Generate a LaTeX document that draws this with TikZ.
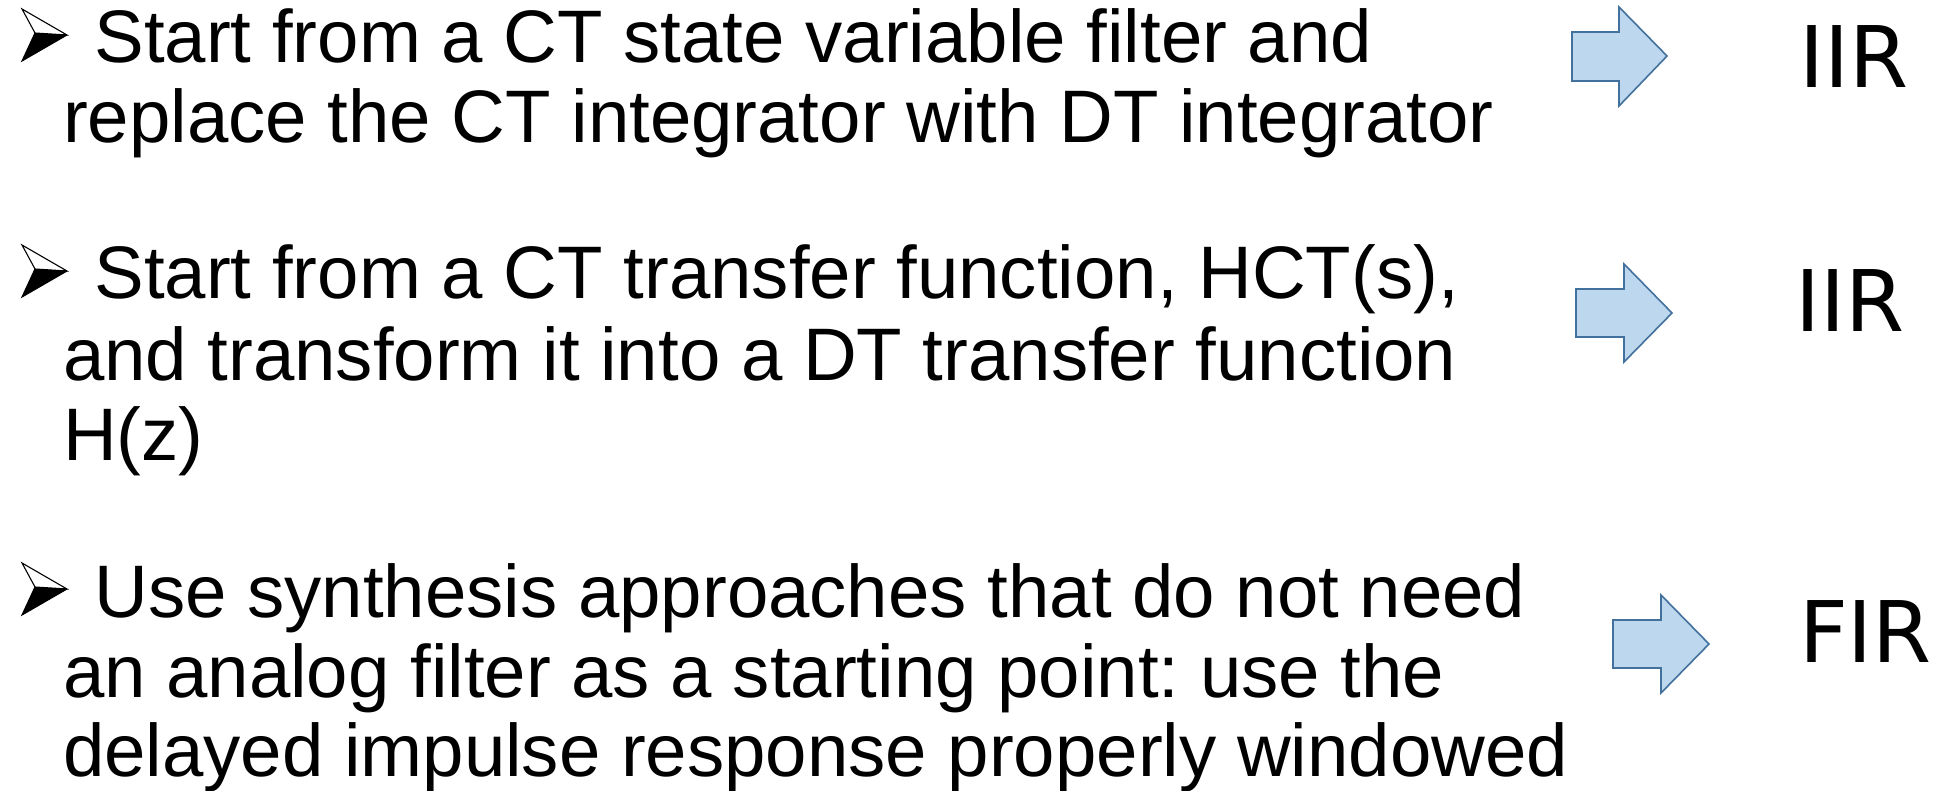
\documentclass[tikz,border=0pt]{standalone}
\usepackage{fontspec}
\setmainfont{Liberation Sans}
\newfontfamily\labfont{DejaVu Sans}
\definecolor{arrfill}{HTML}{BDD7EE}
\definecolor{arrdraw}{HTML}{41719C}
\frenchspacing
\begin{document}
\begin{tikzpicture}[x=1pt,y=-1pt,
  txt/.style={anchor=base west,inner sep=0pt,outer sep=0pt,font=\fontsize{74.4pt}{80pt}\selectfont},
  lab/.style={anchor=base west,inner sep=0pt,outer sep=0pt,font=\labfont\fontsize{85pt}{90pt}\selectfont},
  bigarrow/.style={fill=arrfill,draw=arrdraw,line width=1.6pt,line join=miter},
  bulletpic/.pic={
    \draw[line width=1.1pt,line join=miter,fill=white] (22,-54) -- (67,-28) -- (35,-30) -- cycle;
    \fill[line join=miter] (35,-30) -- (67,-28) -- (22,-2) -- cycle;
    \draw[line width=1.1pt,line join=miter] (35,-30) -- (22,-2) -- (67,-28);
  }]
\useasboundingbox (0,0) rectangle (1942,791);
% bullets
\pic at (0,63) {bulletpic};
\pic at (0,299) {bulletpic};
\pic at (0,617) {bulletpic};
% text block 1
\node[txt] (a1) at (94.5,63) {Start from a CT state variable filter and};
\node[txt] (a2) at (63,143) {replace the CT integrator with DT integrator};
% text block 2
\node[txt] (b1) at (94.5,299) {Start from a CT transfer function, HCT(s),};
\node[txt] (b2) at (63,380) {and transform it into a DT transfer function};
\node[txt] (b3) at (63,460) {H(z)};
% text block 3
\node[txt] (c1) at (94.5,617) {Use synthesis approaches that do not need};
\node[txt] (c2) at (63,697) {an analog filter as a starting point: use the};
\node[txt] (c3) at (63,776) {delayed impulse response properly windowed};
% arrows
\draw[bigarrow] (1572,32) -- (1619,32) -- (1619,7) -- (1667,56) -- (1619,106) -- (1619,81) -- (1572,81) -- cycle;
\draw[bigarrow] (1576,289) -- (1624,289) -- (1624,264) -- (1672,313) -- (1624,362) -- (1624,337) -- (1576,337) -- cycle;
\draw[bigarrow] (1613,620) -- (1661,620) -- (1661,595) -- (1709,644) -- (1661,693) -- (1661,668) -- (1613,668) -- cycle;
% labels
\node[lab] (r1) at (1799,88) {IIR};
\node[lab] (r2) at (1795,331) {IIR};
\node[lab] (r3) at (1799,662) {FIR};
\end{tikzpicture}
\end{document}
